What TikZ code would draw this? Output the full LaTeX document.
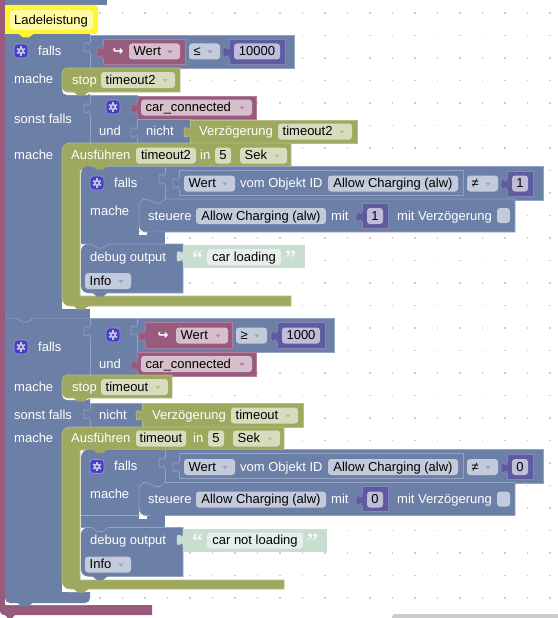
\documentclass[tikz,border=0pt]{standalone}
\usepackage{fontspec}
\setmainfont{Liberation Sans}
\newfontfamily\symfont{DejaVu Sans}
\newfontfamily\quotefont{Liberation Serif}
\definecolor{ioblue}{HTML}{6B7FA7}
\definecolor{iobluel}{HTML}{93A3C4}
\definecolor{ioolive}{HTML}{9FA85F}
\definecolor{iooliveL}{HTML}{B6BE85}
\definecolor{iomaroon}{HTML}{985B7D}
\definecolor{iomaroonl}{HTML}{B27E9C}
\definecolor{ioindigo}{HTML}{5F5BA0}
\definecolor{ioindigol}{HTML}{8784BB}
\definecolor{iostr}{HTML}{C9DDD1}
\definecolor{fblue}{HTML}{C3CADB}
\definecolor{fmaroon}{HTML}{D6BECC}
\definecolor{folive}{HTML}{D8DCBE}
\definecolor{findigo}{HTML}{BFBDD9}
\definecolor{fstr}{HTML}{E6EFEA}
\definecolor{gearfill}{HTML}{4A3CCB}
% input tab on the left side of a block: x, top y, fill, line
\newcommand{\intab}[4]{%
\path[fill=#3,draw=#4,line width=.6pt] (#1,#2+3.75) .. controls (#1,#2+11.25) and (#1-6,#2-2.25) .. (#1-6,#2+9.35) .. controls (#1-6,#2+20.95) and (#1,#2+7.5) .. (#1,#2+15);
\draw[#3,line width=1pt] (#1,#2+4.2) -- (#1,#2+14.6);}
% notch hanging under a block edge: x, y, fill
\newcommand{\notch}[3]{\fill[#3] (#1,#2-.5) -- (#1+5,#2+3.5) -- (#1+11,#2+3.5) -- (#1+16,#2-.5) -- cycle;}
% field with text at the left and a drop-down mark: name, x0, x1, y, fill, text, mark
\newcommand{\dropbox}[7]{%
\fill[#5,rounded corners=3pt] (#2,#4-8) rectangle (#3,#4+8);
\node[txt,anchor=west] (#1) at (#2+4.5,#4) {#6};
\fill[#7] (#3-12.5,#4-1) -- ++(5,0) -- ++(-2.5,3) -- cycle;}
% field with centred text: name, x0, x1, y, fill, text
\newcommand{\valbox}[6]{%
\fill[#5,rounded corners=3pt] (#2,#4-8) rectangle (#3,#4+8);
\node[txt] (#1) at ({(#2+#3)/2},#4) {#6};}
% gear button: name, x, y
\newcommand{\gearbtn}[3]{%
\node[gearbox] (#1) at (#2,#3) {};
\foreach \a in {0,60,...,300} {\fill[fblue,rotate around={\a:(#2,#3)}] (#2-.8,#3-4.6) rectangle (#2+.8,#3-2.5);}
\fill[fblue] (#2,#3) circle (3.2pt);
\fill[gearfill] (#2,#3) circle (1.4pt);}
\begin{document}
\begin{tikzpicture}[x=1pt,y=-1pt,
txt/.style={inner sep=0pt,text height=9.5pt,text depth=1pt,font=\fontsize{13}{15}\selectfont,text=black},
lbl/.style={txt,text=white,anchor=west},
gearbox/.style={rounded corners=3.5pt,fill=gearfill,draw=iobluel,line width=.6pt,minimum size=14pt,inner sep=0pt},
blueblock/.style={fill=ioblue,draw=iobluel,line width=.6pt},
oliveblock/.style={fill=ioolive,draw=iooliveL,line width=.6pt},
maroonblock/.style={fill=iomaroon,draw=iomaroonl,line width=.6pt},
indigoblock/.style={fill=ioindigo,draw=ioindigol,line width=.6pt}]
\useasboundingbox (0,0) rectangle (557,618);
\fill[white] (0,0) rectangle (557,618);
% workspace dots
\foreach \i in {0,...,23} {\foreach \j in {0,...,26} {\fill[black!20] (32.5+22.5*\i-.6,13+22.5*\j-.6) rectangle ++(1.2,1.2);}}
\fill[black!20,rounded corners=3pt] (392,614) -- (392,620) -- (560,620) -- (560,614) -- cycle;
% outer maroon block
\fill[iomaroon] (0,0) -- (5,0) -- (5,605) -- (152,605) -- (152,615) -- (15,615) -- (12,618) -- (8,618) -- (5,615) [rounded corners=4pt] -- (0,615) [sharp corners] -- cycle;
\fill[white,rounded corners=4pt] (5,560) -- (5,605) -- (92,605) -- (92,560) -- cycle;
% blue columns
\fill[ioblue] (5,0) rectangle (107,5);
\fill[ioblue] (5,34) rectangle (90,318);
\fill[ioblue,rounded corners=5pt] (5,318) -- (5,603) -- (90,603) [sharp corners] -- (90,318) -- cycle;
\notch{17}{603}{ioblue}
\draw[iobluel,line width=.6pt] (5,318) -- (17,318) -- (22,322) -- (28,322) -- (33,318) -- (90,318);
% gaps behind the statements
\fill[white,rounded corners=5pt] (62,72) -- (62,95) -- (92,95) -- (92,72) -- cycle;
\fill[white] (62,150) rectangle (92,318) ;
\fill[ioblue] (5,308.5) rectangle (90,318);
\fill[white,rounded corners=5pt] (62,290) -- (62,308.5) -- (92,308.5) -- (92,290) -- cycle;
\fill[white,rounded corners=5pt] (62,380) -- (62,400) -- (92,400) -- (92,380) -- cycle;
\fill[white] (62,432) rectangle (92,592);
\fill[white,rounded corners=5pt] (62,570) -- (62,592) -- (92,592) -- (92,570) -- cycle;
% first falls row
\fill[yellow!80!white,rounded corners=3pt] (5,5) rectangle (98,34);
\notch{18}{34}{yellow!80!white}
\fill[yellow!35!white,rounded corners=4pt] (10,10) rectangle (93,30);
\node[txt,anchor=west] (comment) at (14,20) {Ladeleistung};
\gearbtn{gearA}{21}{51}
\node[lbl] (fallsA) at (38,51) {falls};
\draw[blueblock] (90,35) rectangle (294,68);
\intab{90}{38}{ioblue}{iobluel}
\draw[maroonblock] (103,39) rectangle (185,64);
\intab{103}{43}{iomaroon}{iomaroonl}
\node[lbl,anchor=center,font={\fontsize{13}{15}\selectfont\symfont\bfseries}] (returnA) at (118,51) {↪};
\dropbox{wertA}{129}{180}{51.5}{fmaroon}{Wert}{iomaroonl}
\dropbox{opA}{189}{220}{51.5}{fblue}{≤}{iobluel}
\draw[indigoblock] (229,39) rectangle (285,64);
\intab{229}{43}{ioindigo}{ioindigol}
\valbox{limitA}{234}{280}{51.5}{findigo}{10000}
% stop
\node[lbl] (macheA) at (14,79) {mache};
\draw[oliveblock] (180,68) -- (180,92) -- (67,92) [rounded corners=5pt] -- (62,92) -- (62,68) -- (75,68) [sharp corners] -- (180,68) -- cycle;
\notch{73}{92}{ioolive}
\node[lbl] (stopA) at (72,80) {stop};
\dropbox{timerA}{101}{175}{80}{folive}{timeout2}{iooliveL}
% sonst falls
\node[lbl] (sonstA) at (14,119) {sonst falls};
\draw[blueblock] (90,95) rectangle (137,143);
\intab{90}{99}{ioblue}{iobluel}
\gearbtn{gearB}{113}{107}
\node[lbl] (undA) at (99,131) {und};
\draw[maroonblock] (137,96) rectangle (256,119);
\intab{137}{99}{iomaroon}{iomaroonl}
\dropbox{carA}{141}{252}{107.5}{fmaroon}{car\_connected}{iomaroonl}
\draw[blueblock] (137,119) rectangle (190,143);
\intab{137}{123}{ioblue}{iobluel}
\node[lbl] (nichtA) at (146,131) {nicht};
\draw[oliveblock] (190,120) rectangle (357,143);
\intab{190}{123}{ioolive}{iooliveL}
\node[lbl] (delayA) at (199,131) {Verzögerung};
\dropbox{delayfA}{278}{352}{131.5}{folive}{timeout2}{iooliveL}
% first timeout
\node[lbl] (macheB) at (14,155) {mache};
\draw[oliveblock] (291,143) -- (291,170) -- (80,170) -- (80,296) -- (291,296) -- (291,306) -- (70,306) [rounded corners=8pt] -- (62,306) -- (62,143) -- (80,143) [sharp corners] -- (291,143) -- cycle;
\notch{73}{306}{ioolive}
\node[lbl] (ausA) at (71,155) {Ausführen};
\valbox{ausfA}{136}{196}{155.5}{folive}{timeout2}
\node[lbl] (inA) at (200,155) {in};
\valbox{secA}{215}{231}{155.5}{folive}{5}
\dropbox{unitA}{240}{287}{155.5}{folive}{Sek}{iooliveL}
% second falls row
\gearbtn{gearC}{21}{347}
\node[lbl] (fallsB) at (38,347) {falls};
\draw[blueblock] (90,318) rectangle (137,376);
\intab{90}{322}{ioblue}{iobluel}
\gearbtn{gearD}{113}{335}
\node[lbl] (undB) at (99,364) {und};
\draw[blueblock] (137,318) rectangle (334,352);
\intab{137}{321}{ioblue}{iobluel}
\draw[maroonblock] (145,322) rectangle (232,348);
\intab{145}{327}{iomaroon}{iomaroonl}
\node[lbl,anchor=center,font={\fontsize{13}{15}\selectfont\symfont\bfseries}] (returnB) at (163,335) {↪};
\dropbox{wertB}{176}{228}{335.5}{fmaroon}{Wert}{iomaroonl}
\dropbox{opB}{236}{267}{335.5}{fblue}{≥}{iobluel}
\draw[indigoblock] (277,322) rectangle (325,348);
\intab{277}{327}{ioindigo}{ioindigol}
\valbox{limitB}{282}{320}{335.5}{findigo}{1000}
\draw[maroonblock] (137,352) rectangle (256,376);
\intab{137}{356}{iomaroon}{iomaroonl}
\dropbox{carB}{141}{252}{364}{fmaroon}{car\_connected}{iomaroonl}
\node[lbl] (macheC) at (14,387) {mache};
\draw[oliveblock] (172,375) -- (172,398) -- (67,398) [rounded corners=5pt] -- (62,398) -- (62,375) -- (75,375) [sharp corners] -- (172,375) -- cycle;
\notch{73}{398}{ioolive}
\node[lbl] (stopB) at (72,387) {stop};
\dropbox{timerB}{101}{168}{387}{folive}{timeout}{iooliveL}
\node[lbl] (sonstB) at (14,415) {sonst falls};
\fill[ioblue] (90,403) rectangle (142,427);
\draw[iobluel,line width=.6pt] (90,403) -- (142,403) (90,403) -- (90,427);
\intab{90}{405}{ioblue}{iobluel}
\node[lbl] (nichtB) at (99,415) {nicht};
\draw[oliveblock] (142,403) rectangle (303,427);
\intab{142}{406}{ioolive}{iooliveL}
\node[lbl] (delayB) at (152,415) {Verzögerung};
\dropbox{delayfB}{231}{298}{415.5}{folive}{timeout}{iooliveL}
\node[lbl] (macheD) at (14,438) {mache};
\draw[oliveblock] (284,427) -- (284,450) -- (80,450) -- (80,580) -- (284,580) -- (284,589) -- (70,589) [rounded corners=8pt] -- (62,589) -- (62,427) -- (80,427) [sharp corners] -- (284,427) -- cycle;
\notch{73}{589}{ioolive}
\node[lbl] (ausB) at (71,438) {Ausführen};
\valbox{ausfB}{136}{186}{438.5}{folive}{timeout}
\node[lbl] (inB) at (193,438) {in};
\valbox{secB}{208}{224}{438.5}{folive}{5}
\dropbox{unitB}{233}{280}{438.5}{folive}{Sek}{iooliveL}
% inner falls and debug output, same twice
\foreach \n/\s/\val/\msg/\msgx/\msgend in {A/0/1/car loading/281/305,B/283.5/0/car not loading/303/327} {
\begin{scope}[yshift={-\s pt}]
\fill[ioblue] (165,166) [rounded corners=8pt] -- (81,166) [sharp corners] -- (81,232) -- (165,232) -- cycle;
\draw[iobluel,line width=.6pt] (165,166) -- (90,166);
\notch{92}{166}{ioolive}
\gearbtn{gearin\n}{97}{183}
\node[lbl] (fallsin\n) at (114,183) {falls};
\draw[blueblock] (165,166) rectangle (543,200);
\intab{165}{170}{ioblue}{iobluel}
\draw[blueblock] (179,170) rectangle (463,195);
\intab{179}{174}{ioblue}{iobluel}
\dropbox{wertin\n}{184}{235}{183.5}{fblue}{Wert}{iobluel}
\node[lbl] (vom\n) at (240,183.5) {vom Objekt ID};
\valbox{objekt\n}{328}{458}{183.5}{fblue}{Allow Charging (alw)}
\dropbox{opin\n}{467}{498}{183.5}{fblue}{≠}{iobluel}
\draw[indigoblock] (507,171) rectangle (533,196);
\intab{507}{175}{ioindigo}{ioindigol}
\valbox{cmp\n}{512}{528}{183.5}{findigo}{\val}
\node[lbl] (machein\n) at (90,211) {mache};
\fill[white,rounded corners=5pt] (139,215) -- (139,235) -- (170,235) -- (170,215) -- cycle;
\fill[ioblue] (81,232) rectangle (165,244);
\fill[white] (139,232) rectangle (147,235);
\draw[blueblock] (515,199) -- (515,232) -- (146,232) [rounded corners=7pt] -- (139,232) -- (139,199) -- (150,199) [sharp corners] -- (155,203) -- (160,203) -- (165,199) -- (515,199) -- cycle;
\notch{150}{232}{ioblue}
\node[lbl] (steuere\n) at (148,216) {steuere};
\valbox{target\n}{196}{326}{216}{fblue}{Allow Charging (alw)}
\node[lbl] (mit\n) at (331,216) {mit};
\draw[indigoblock] (362,203) rectangle (388,228);
\intab{362}{207.5}{ioindigo}{ioindigol}
\valbox{setval\n}{367}{383}{216}{findigo}{\val}
\node[lbl] (verz\n) at (397,216) {mit Verzögerung};
\fill[fblue,rounded corners=3pt] (497,208) rectangle (510,223);
% debug output
\fill[ioblue] (183,244) -- (183,293) -- (88,293) [rounded corners=7pt] -- (81,293) -- (81,244) [sharp corners] -- cycle;
\draw[iobluel,line width=.6pt] (81,244) -- (92,244) -- (97,248) -- (103,248) -- (108,244) -- (183,244) -- (183,293) -- (90,293);
\notch{92}{293}{ioblue}
\node[lbl] (debug\n) at (90,257) {debug output};
\fill[iostr] (183,245) rectangle (\msgend,268);
\intab{183}{247}{iostr}{iostr}
\node[lbl,text=white!80!iostr,font={\fontsize{22}{22}\selectfont\quotefont\bfseries}] (open\n) at (192,261) {“};
\valbox{msg\n}{207}{\msgx}{257}{fstr}{\msg}
\node[lbl,text=white!80!iostr,font={\fontsize{22}{22}\selectfont\quotefont\bfseries},anchor=west] (close\n) at (\msgx+4,261) {”};
\dropbox{level\n}{85}{131}{281}{fblue}{Info}{iobluel}
\end{scope}
}
\end{tikzpicture}
\end{document}
